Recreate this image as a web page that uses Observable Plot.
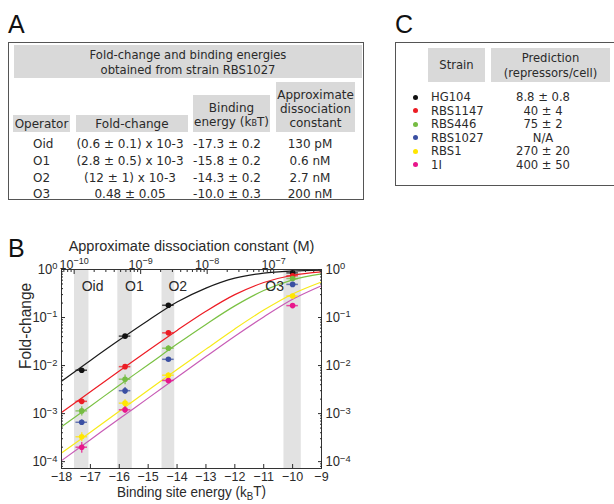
<!DOCTYPE html>
<html><head><meta charset="utf-8">
<script src="https://cdn.jsdelivr.net/npm/d3@7"></script>
<script src="https://cdn.jsdelivr.net/npm/@observablehq/plot@0.6"></script>
<style>
html,body{margin:0;padding:0;background:#fff;}
#page{position:relative;width:614px;height:504px;overflow:hidden;font-family:"DejaVu Sans",sans-serif;color:#2a2a2a;background:#fff;}
.a{position:absolute;white-space:nowrap;}
.g{position:absolute;background:#d9d9d9;text-align:center;box-sizing:border-box;white-space:nowrap;}
.lbl{position:absolute;font-family:"Liberation Sans",sans-serif;font-size:25px;line-height:25px;color:#111;}
.box{position:absolute;border:1px solid #555;box-sizing:border-box;}
#chartB{position:absolute;left:0;top:230px;}
</style></head>
<body><div id="page">
<div class="lbl" style="left:8px;top:12px">A</div>
<div class="lbl" style="left:395px;top:12px">C</div>
<div class="lbl" style="left:8px;top:236px">B</div>
<div class="box" style="left:8px;top:42px;width:356px;height:158px"></div>
<div class="g" style="left:14px;top:45px;width:348px;height:33px;font-size:11.6px;line-height:15px;padding-top:2.5px">Fold-change and binding energies<br>obtained from strain RBS1027</div>
<div class="g" style="left:13px;top:115px;width:57px;height:17px;font-size:12px;line-height:14px;padding-top:2px">Operator</div>
<div class="g" style="left:76px;top:115px;width:112px;height:17px;font-size:12px;line-height:14px;padding-top:2px">Fold-change</div>
<div class="g" style="left:193px;top:95px;width:77px;height:37px;font-size:12px;line-height:14px;padding-top:6px">Binding<br>energy (k<span style="font-size:8px">B</span>T)</div>
<div class="g" style="left:276px;top:82px;width:79px;height:50px;font-size:12px;line-height:14px;padding-top:6px">Approximate<br>dissociation<br>constant</div>
<div id="rowsA"></div>
<div class="box" style="left:395px;top:42px;width:240px;height:144px"></div>
<div class="g" style="left:428px;top:48px;width:57px;height:34px;font-size:11.6px;line-height:15px;padding-top:9.5px">Strain</div>
<div class="g" style="left:491px;top:48px;width:119px;height:34px;font-size:11.6px;line-height:15px;padding-top:2.5px">Prediction<br>(repressors/cell)</div>
<div id="rowsC"></div>
<div id="chartB"></div>
</div>
<script>
// ---------- data ----------
const operators = ["Oid", "O1", "O2", "O3"];
const operatorFoldText = ["(0.6 \u00b1 0.1) x 10-3", "(2.8 \u00b1 0.5) x 10-3", "(12 \u00b1 1) x 10-3", "0.48 \u00b1 0.05"];
const operatorEnergyText = ["-17.3 \u00b1 0.2", "-15.8 \u00b1 0.2", "-14.3 \u00b1 0.2", "-10.0 \u00b1 0.3"];
const operatorKdText = ["130 pM", "0.6 nM", "2.7 nM", "200 nM"];
const energies = [-17.3, -15.8, -14.3, -10.0];        // binding energies (kBT)
const bandHalfWidth = [0.25, 0.25, 0.22, 0.3];         // grey band half widths (kBT)
const refKd = 130e-12;                                 // Kd of Oid (M)

const strains = ["HG104", "RBS1147", "RBS446", "RBS1027", "RBS1", "1I"];
const predictions = ["8.8 \u00b1 0.8", "40 \u00b1 4", "75 \u00b1 2", "N/A", "270 \u00b1 20", "400 \u00b1 50"];
const dotColors = ["#111111", "#ec1c24", "#76bc43", "#3a4fa2", "#ffe600", "#e8168b"];

// measured fold-change at Oid, O1, O2, O3
const fcHG104   = [0.0080, 0.041, 0.18, 0.85];
const fcRBS1147 = [0.0018, 0.0095, 0.048, 0.74];
const fcRBS446  = [0.00114, 0.0052, 0.023, 0.65];
const fcRBS1027 = [0.00066, 0.0030, 0.0135, 0.49];
const fcRBS1    = [0.00033, 0.00165, 0.0063, 0.28];
const fc1I      = [0.00020, 0.0012, 0.0049, 0.177];
// vertical error (+/-)
const errHG104   = [0.0007, 0.003, 0.012, 0.04];
const errRBS1147 = [0.0002, 0.001, 0.004, 0.04];
const errRBS446  = [0.00025, 0.0012, 0.003, 0.04];
const errRBS1027 = [0.00008, 0.0005, 0.0012, 0.03];
const errRBS1    = [0.00007, 0.0003, 0.0008, 0.02];
const err1I      = [0.00005, 0.0002, 0.0005, 0.015];
const energyErr = 0.2; // horizontal error (kBT)

// theory curves read at these energies
const curveEnergy = [-18, -17, -16, -15, -14, -13, -12, -11, -10, -9];
const curveHG104   = [0.0047, 0.0128, 0.034, 0.087, 0.21, 0.41, 0.66, 0.84, 0.93, 0.97];
const curveRBS1147 = [0.00105, 0.00285, 0.0077, 0.0207, 0.054, 0.135, 0.30, 0.535, 0.76, 0.895];
const curveRBS446  = [0.00053, 0.00143, 0.0039, 0.0104, 0.028, 0.072, 0.175, 0.365, 0.61, 0.81];
const curveRBS1    = [0.000152, 0.00041, 0.00112, 0.00305, 0.0083, 0.022, 0.058, 0.143, 0.31, 0.55];
const curve1I      = [0.000105, 0.000286, 0.00078, 0.0021, 0.0057, 0.0154, 0.041, 0.103, 0.24, 0.46];
const curveColors  = ["#1a1a1a", "#ed1c24", "#7ac143", "#f7ea1a", "#c85cb6"];

const xTicks = [-18, -17, -16, -15, -14, -13, -12, -11, -10, -9];
const yTicks = [1e-4, 1e-3, 1e-2, 1e-1, 1];
const kdTicks = [1e-10, 1e-9, 1e-8, 1e-7];

// ---------- tables ----------
const rowsA = document.getElementById("rowsA");
const rowYA = [144, 161, 177.5, 194];
operators.forEach((op, i) => {
  const c = rowYA[i] - 8;
  rowsA.insertAdjacentHTML("beforeend",
    `<div class="a" style="left:33px;top:${c}px;font-size:12px;line-height:16px">${op}</div>` +
    `<div class="a" style="left:70px;width:120px;text-align:center;top:${c}px;font-size:12px;line-height:16px">${operatorFoldText[i]}</div>` +
    `<div class="a" style="left:187px;width:80px;text-align:center;top:${c}px;font-size:12px;line-height:16px">${operatorEnergyText[i]}</div>` +
    `<div class="a" style="left:270px;width:80px;text-align:center;top:${c}px;font-size:12px;line-height:16px">${operatorKdText[i]}</div>`);
});
const rowsC = document.getElementById("rowsC");
strains.forEach((s, i) => {
  const c = 97 + i * 13.5;
  rowsC.insertAdjacentHTML("beforeend",
    `<div class="a" style="left:413px;top:${c - 2.5}px;width:5px;height:5px;border-radius:50%;background:${dotColors[i]}"></div>` +
    `<div class="a" style="left:431px;top:${c - 8}px;font-size:11.6px;line-height:16px">${s}</div>` +
    `<div class="a" style="left:493px;width:100px;text-align:center;top:${c - 8}px;font-size:11.6px;line-height:16px">${predictions[i]}</div>`);
});

// ---------- chart ----------
const fcAll = [fcHG104, fcRBS1147, fcRBS446, fcRBS1027, fcRBS1, fc1I];
const errAll = [errHG104, errRBS1147, errRBS446, errRBS1027, errRBS1, err1I];
const points = strains.flatMap((s, si) => operators.map((op, oi) => ({
  strain: s, color: dotColors[si], e: energies[oi], fc: fcAll[si][oi], err: errAll[si][oi]
})));
const curves = [curveHG104, curveRBS1147, curveRBS446, curveRBS1, curve1I];
const bands = operators.map((op, i) => ({op, e: energies[i], h: bandHalfWidth[i]}));

const pow10 = v => "10^" + Math.round(Math.log10(v));
const kdToE = kd => energies[0] + Math.log(kd / refKd);
const eToKd = e => refKd * Math.exp(e - energies[0]);
const kdE = kdTicks.map(kdToE);
const kdMinorE = [];
for (let p = -11; p <= -7; p++) for (let m = 2; m <= 9; m++) {
  const e = kdToE(m * Math.pow(10, p));
  if (e >= -18 && e <= -9) kdMinorE.push(e);
}
const yMinor = [];
for (let p = -5; p <= -1; p++) for (let m = 2; m <= 9; m++) {
  const v = m * Math.pow(10, p);
  if (v >= 7.2e-5 && v <= 1) yMinor.push(v);
}
const blank = () => "";

const chart = Plot.plot({
  width: 360, height: 274,
  marginLeft: 61, marginRight: 39, marginTop: 39, marginBottom: 36,
  style: {fontFamily: "'Liberation Sans', sans-serif", fontSize: "12.5px", color: "#2a2a2a", background: "transparent"},
  x: {domain: [-18, -9]},
  y: {type: "log", domain: [7.2e-5, 1]},
  color: {type: "identity"},
  marks: [
    Plot.rect(bands, {x1: d => d.e - d.h, x2: d => d.e + d.h, fill: "#e2e2e2"}),
    ...curves.map((c, i) => Plot.line(curveEnergy.map((e, j) => ({e, fc: c[j]})),
      {x: "e", y: "fc", stroke: curveColors[i], strokeWidth: 1.2, curve: "catmull-rom"})),
    Plot.ruleY(points, {y: "fc", x1: d => d.e - energyErr, x2: d => d.e + energyErr, stroke: "color", strokeWidth: 1.5, strokeOpacity: 0.75}),
    Plot.ruleX(points, {x: "e", y1: d => d.fc - d.err, y2: d => d.fc + d.err, stroke: "color", strokeWidth: 1.5, strokeOpacity: 0.75}),
    Plot.dot(points, {x: "e", y: "fc", fill: "color", r: 2.8}),
    Plot.text(bands.slice(0, 3), {x: "e", text: "op", frameAnchor: "top", dy: 11, textAnchor: "start", fontSize: 14}),
    Plot.text(bands.slice(3), {x: d => d.e - d.h, text: "op", frameAnchor: "top", dy: 11, textAnchor: "end", fontSize: 14}),
    Plot.frame({stroke: "#333", strokeWidth: 1}),
    // bottom axis
    Plot.axisX({anchor: "bottom", ticks: xTicks, tickSize: 0, tickPadding: 3, label: null, fontSize: 12.5,
      tickFormat: d => (d < 0 ? "\u2212" : "") + Math.abs(d)}),
    Plot.axisX({anchor: "bottom", ticks: xTicks, tickSize: 4, dy: -4, tickFormat: blank, label: null}),
    // top axis (dissociation constant)
    Plot.axisX({anchor: "top", ticks: kdE, tickSize: 0, tickPadding: 1, label: null, fontSize: 12.5, tickFormat: d => pow10(eToKd(d))}),
    Plot.axisX({anchor: "top", ticks: kdE, tickSize: 4, dy: 4, tickFormat: blank, label: null}),
    Plot.axisX({anchor: "top", ticks: kdMinorE, tickSize: 2, dy: 2, tickFormat: blank, label: null}),
    // left axis
    Plot.axisY({anchor: "left", ticks: yTicks, tickSize: 0, tickPadding: 4, label: null, fontSize: 13, tickFormat: pow10}),
    Plot.axisY({anchor: "left", ticks: yTicks, tickSize: 4, dx: 4, tickFormat: blank, label: null}),
    Plot.axisY({anchor: "left", ticks: yMinor, tickSize: 2, dx: 2, tickFormat: blank, label: null}),
    // right axis
    Plot.axisY({anchor: "right", ticks: yTicks, tickSize: 0, tickPadding: 4, label: null, fontSize: 13, tickFormat: pow10}),
    Plot.axisY({anchor: "right", ticks: yTicks, tickSize: 4, dx: -4, tickFormat: blank, label: null}),
    Plot.axisY({anchor: "right", ticks: yMinor, tickSize: 2, dx: -2, tickFormat: blank, label: null}),
    // titles
    Plot.text(["Approximate dissociation constant (M)"], {text: d => d, frameAnchor: "top", dy: -29, fontSize: 14.5}),
    Plot.text(["Binding site energy (kBT)"], {text: d => d, frameAnchor: "bottom", dy: 28.5, fontSize: 13.5}),
    Plot.text(["Fold-change"], {text: d => d, frameAnchor: "left", dx: -36, rotate: -90, fontSize: 15.5})
  ]
});
document.getElementById("chartB").appendChild(chart);
const svg = d3.select(chart);
svg.selectAll("text").filter(function () { return this.textContent === "Binding site energy (kBT)"; })
  .html('Binding site energy (k<tspan font-size="0.72em" dy="0.25em">B</tspan><tspan dy="-0.25em">T)</tspan>');
svg.selectAll("text").each(function () {
  const m = /^10\^(-?\d+)$/.exec(this.textContent);
  if (m) {
    const ex = m[1].replace("-", "\u2212");
    d3.select(this).html(`10<tspan font-size="0.72em" dy="-0.45em">${ex}</tspan>`);
  }
});
svg.selectAll("text").each(function () {
  const t = this.getAttribute("transform");
  if (t) this.setAttribute("transform", t + " scale(1,1.06)");
});
</script>
</body></html>
